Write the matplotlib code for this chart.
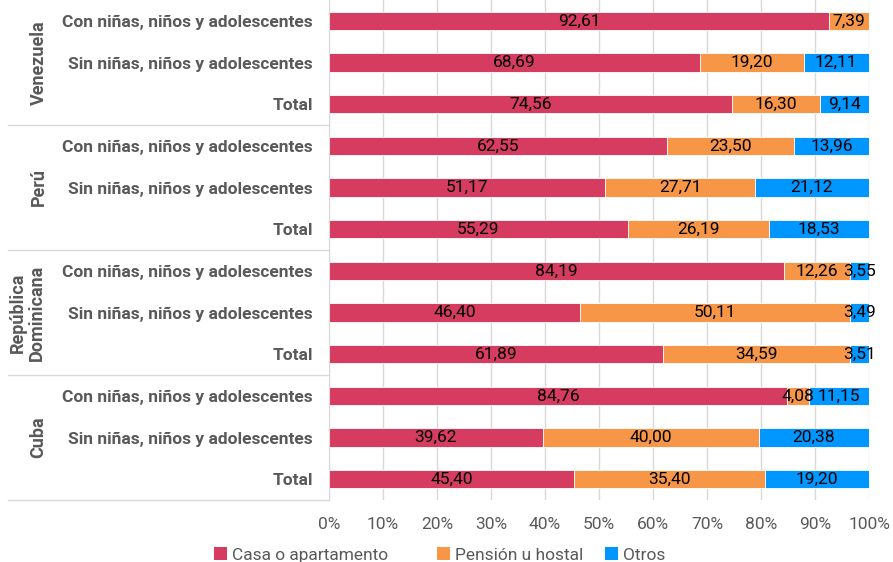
import numpy as np
import matplotlib.pyplot as plt
from matplotlib.ticker import PercentFormatter

plt.rcParams['font.family'] = ['Roboto', 'DejaVu Sans']

countries = ['Venezuela', 'Perú', 'República\nDominicana', 'Cuba']
rows = ['Con niñas, niños y adolescentes', 'Sin niñas, niños y adolescentes', 'Total']
series = ['Casa o apartamento', 'Pensión u hostal', 'Otros']
colors = ['#D63C60', '#F79646', '#0096FF']

# one entry per bar, top to bottom
casa = [92.61, 68.69, 74.56, 62.55, 51.17, 55.29, 84.19, 46.40, 61.89, 84.76, 39.62, 45.40]
pension = [7.39, 19.20, 16.30, 23.50, 27.71, 26.19, 12.26, 50.11, 34.59, 4.08, 40.00, 35.40]
otros = [0.00, 12.11, 9.14, 13.96, 21.12, 18.53, 3.55, 3.49, 3.51, 11.15, 20.38, 19.20]

n = len(casa)
y = np.arange(n)
labels = rows * len(countries)
gray = '#595959'

fig = plt.figure(figsize=(8.93, 5.62), dpi=100)
ax = fig.add_axes([329 / 893, 62 / 562, 540 / 893, 500 / 562])

left = np.zeros(n)
handles = []
for vals, name, col in zip([casa, pension, otros], series, colors):
    vals = np.array(vals)
    bars = ax.barh(y, vals, left=left, height=0.44, color=col, label=name,
                   edgecolor='white', linewidth=0.6, zorder=2)
    handles.append(bars)
    for b, v in zip(bars, vals):
        if v > 0:
            ax.text(b.get_x() + b.get_width() / 2, b.get_y() + b.get_height() / 2,
                    f'{v:.2f}'.replace('.', ','), ha='center', va='center',
                    fontsize=12.5, color='black', zorder=3)
    left += vals

ax.set_xlim(0, 100)
ax.set_ylim(n - 0.5, -0.5)
ax.set_xticks(np.arange(0, 101, 10))
ax.xaxis.set_major_formatter(PercentFormatter(decimals=0))
ax.tick_params(axis='x', length=0, labelsize=12.5, labelcolor=gray, pad=12)
ax.set_yticks(y)
ax.set_yticklabels(labels, fontsize=12.5, fontweight='bold', color=gray)
ax.tick_params(axis='y', length=0, pad=11.5)
ax.grid(axis='x', color='#D9D9D9', linewidth=1, zorder=0)
for s in ['top', 'right', 'bottom']:
    ax.spines[s].set_visible(False)
ax.spines['left'].set_color('#D9D9D9')

# country group labels and separators on the left
trans = ax.get_yaxis_transform()
for i, c in enumerate(countries):
    xc = -0.538 if '\n' not in c else -0.558
    ax.text(xc, 3 * i + 1, c, transform=trans, rotation=90, ha='center', va='center',
            fontsize=13, fontweight='bold', color=gray, linespacing=1.05)
    ax.plot([-0.595, 0], [3 * i + 2.5] * 2, transform=trans, color='#D9D9D9',
            linewidth=1, clip_on=False)

# legend entries spaced like the original layout
for h, name, x0 in zip(handles, series, [214, 437, 605]):
    leg = fig.legend([h], [name], loc='center left', bbox_to_anchor=(x0 / 893, 7 / 562),
                     frameon=False, fontsize=12.5, handlelength=0.75, handleheight=0.75,
                     handletextpad=0.3, borderpad=0, borderaxespad=0, labelcolor=gray)
    for p in leg.get_patches():
        p.set_edgecolor('none')

fig.savefig('out.png', dpi=100)
